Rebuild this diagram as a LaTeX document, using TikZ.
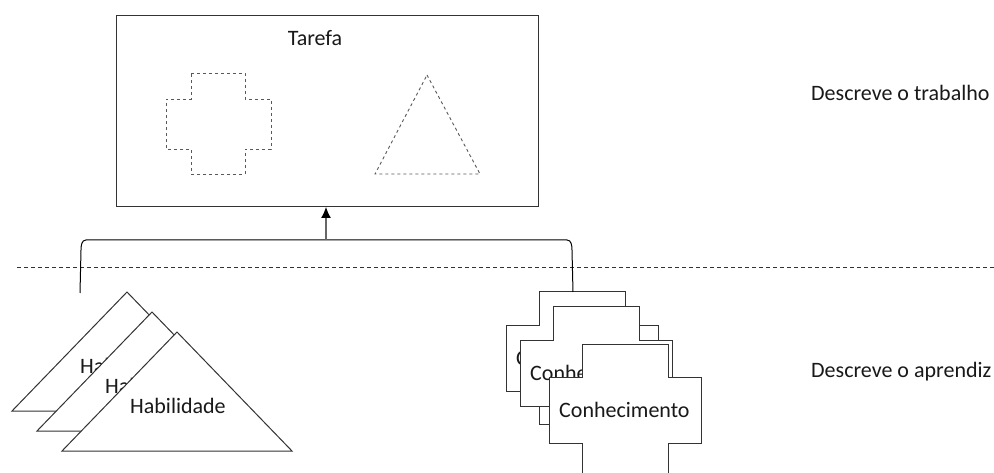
\documentclass[tikz,border=0pt]{standalone}
\usepackage{fontspec}
\setmainfont{Carlito}
\usetikzlibrary{arrows.meta}

\tikzset{
  forma/.style={draw=black!80, line width=1pt, fill=white},
  tracejado/.style={draw=black!65, dashed, line width=0.9pt},
  rotulo/.style={font=\fontsize{22}{26}\selectfont, inner sep=0pt, text=black!90}
}

\begin{document}
\begin{tikzpicture}[x=1pt, y=-1pt]
    \useasboundingbox (0,0) rectangle (994,473);

    % tarefa
    \node[forma, anchor=north west, minimum width=422pt, minimum height=191pt] (caixa) at (116,15) {};
    \node[rotulo, anchor=base] (tarefa) at (315,46) {Tarefa};
    \draw[tracejado] (191,73) -- (245,73) -- (245,99) -- (271,99) -- (271,149) -- (245,149)
      -- (245,174) -- (191,174) -- (191,149) -- (166,149) -- (166,99) -- (191,99) -- cycle;
    \draw[tracejado] (427,75) -- (480,174) -- (375,174) -- cycle;

    % divisao
    \draw[black!80, line width=0.9pt, dash pattern=on 4pt off 3pt] (17,267) -- (994,267);

    % habilidades
    \foreach \dx/\dy/\nome in {0/0/hab1, 25/20/hab2, 50/40/hab3}
    {\draw[forma] (127+\dx,292+\dy) -- (242+\dx,411+\dy) -- (12+\dx,411+\dy) -- cycle;
     \node[rotulo, anchor=base west] (\nome) at (80+\dx,373+\dy) {Habilidade};
    }

    % conhecimentos
    \foreach \dx/\dy/\nome in {0/0/con1, 14/15/con2, 43/52/con3}
    {\draw[forma] (539+\dx,292+\dy) -- (625+\dx,292+\dy) -- (625+\dx,325+\dy) -- (658+\dx,325+\dy)
       -- (658+\dx,391+\dy) -- (625+\dx,391+\dy) -- (625+\dx,424+\dy) -- (539+\dx,424+\dy)
       -- (539+\dx,391+\dy) -- (506+\dx,391+\dy) -- (506+\dx,325+\dy) -- (539+\dx,325+\dy) -- cycle;
     \node[rotulo, anchor=base west] (\nome) at (516+\dx,365+\dy) {Conhecimento};
    }

    % chave
    \coordinate (pontaesq) at (80,293);
    \coordinate (pontadir) at (573,292);
    \coordinate (juncao) at (326,240);
    \draw[black, line width=1pt] (pontaesq) -- (81,250) to[out=90, in=180] (86,240)
      -- (567,240) to[out=0, in=90] (572,250) -- (pontadir);
    \draw[black!60, line width=1.2pt, -{Latex[length=11pt, width=10pt, black]}] (juncao) -- (juncao |- caixa.south);

    % legendas
    \node[rotulo, anchor=base west] (trabalho) at (811,101) {Descreve o trabalho};
    \node[rotulo, anchor=base west] (aprendiz) at (811,377) {Descreve o aprendiz};
\end{tikzpicture}
\end{document}
